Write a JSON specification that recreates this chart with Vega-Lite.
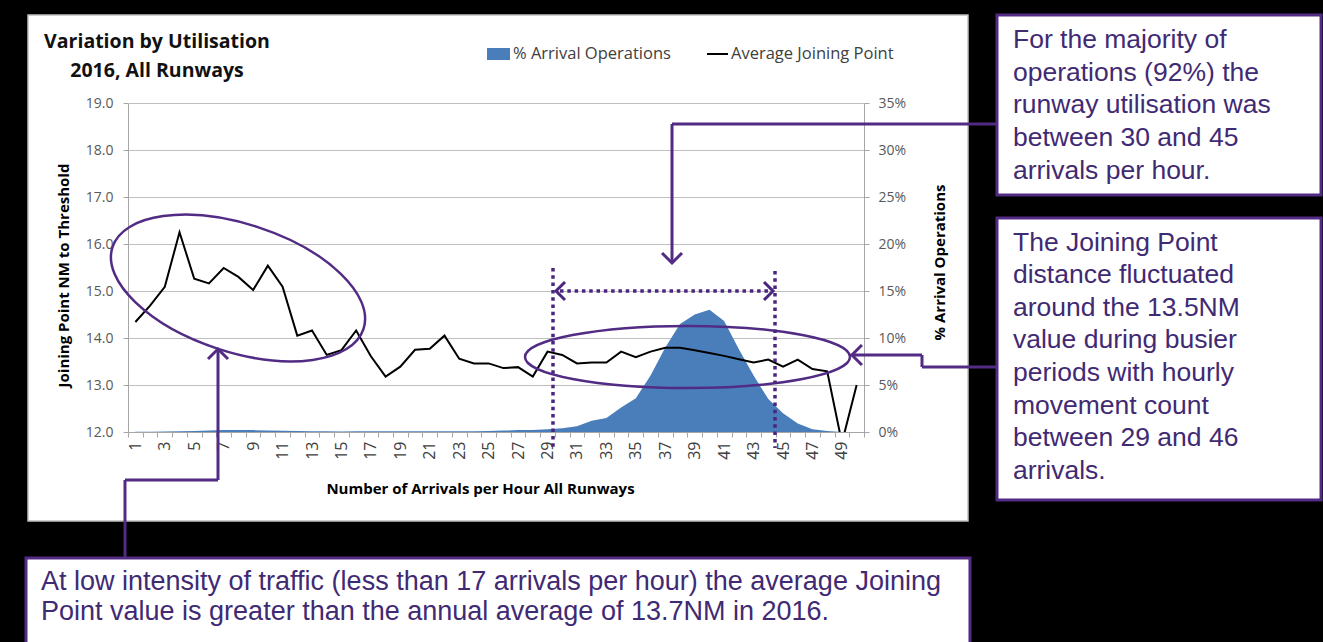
{
  "$schema": "https://vega.github.io/schema/vega-lite/v6.json",
  "width": 736,
  "height": 329,
  "autosize": {"type": "none"},
  "padding": {"left": 128, "top": 103, "right": 459, "bottom": 210},
  "background": "white",
  "config": {"view": {"stroke": null}, "font": "Open Sans"},
  "data": {"values": [
    {"n": 1, "jp": 14.34, "pct": 0.0002},
    {"n": 2, "jp": 14.69, "pct": 0.0003},
    {"n": 3, "jp": 15.09, "pct": 0.0005},
    {"n": 4, "jp": 16.25, "pct": 0.0007},
    {"n": 5, "jp": 15.26, "pct": 0.001},
    {"n": 6, "jp": 15.16, "pct": 0.0015},
    {"n": 7, "jp": 15.49, "pct": 0.002},
    {"n": 8, "jp": 15.30, "pct": 0.0022},
    {"n": 9, "jp": 15.02, "pct": 0.002},
    {"n": 10, "jp": 15.54, "pct": 0.0015},
    {"n": 11, "jp": 15.09, "pct": 0.0012},
    {"n": 12, "jp": 14.05, "pct": 0.001},
    {"n": 13, "jp": 14.16, "pct": 0.0008},
    {"n": 14, "jp": 13.64, "pct": 0.0007},
    {"n": 15, "jp": 13.74, "pct": 0.0006},
    {"n": 16, "jp": 14.16, "pct": 0.0007},
    {"n": 17, "jp": 13.61, "pct": 0.0008},
    {"n": 18, "jp": 13.18, "pct": 0.0008},
    {"n": 19, "jp": 13.39, "pct": 0.0007},
    {"n": 20, "jp": 13.75, "pct": 0.0008},
    {"n": 21, "jp": 13.77, "pct": 0.0009},
    {"n": 22, "jp": 14.05, "pct": 0.0008},
    {"n": 23, "jp": 13.56, "pct": 0.0007},
    {"n": 24, "jp": 13.46, "pct": 0.0008},
    {"n": 25, "jp": 13.46, "pct": 0.001},
    {"n": 26, "jp": 13.36, "pct": 0.0015},
    {"n": 27, "jp": 13.38, "pct": 0.002},
    {"n": 28, "jp": 13.18, "pct": 0.0022},
    {"n": 29, "jp": 13.71, "pct": 0.003},
    {"n": 30, "jp": 13.64, "pct": 0.004},
    {"n": 31, "jp": 13.46, "pct": 0.006},
    {"n": 32, "jp": 13.48, "pct": 0.012},
    {"n": 33, "jp": 13.48, "pct": 0.015},
    {"n": 34, "jp": 13.71, "pct": 0.026},
    {"n": 35, "jp": 13.59, "pct": 0.036},
    {"n": 36, "jp": 13.71, "pct": 0.06},
    {"n": 37, "jp": 13.79, "pct": 0.09},
    {"n": 38, "jp": 13.79, "pct": 0.115},
    {"n": 39, "jp": 13.74, "pct": 0.125},
    {"n": 40, "jp": 13.68, "pct": 0.13},
    {"n": 41, "jp": 13.62, "pct": 0.118},
    {"n": 42, "jp": 13.55, "pct": 0.088},
    {"n": 43, "jp": 13.48, "pct": 0.06},
    {"n": 44, "jp": 13.54, "pct": 0.035},
    {"n": 45, "jp": 13.39, "pct": 0.02},
    {"n": 46, "jp": 13.54, "pct": 0.009},
    {"n": 47, "jp": 13.34, "pct": 0.003},
    {"n": 48, "jp": 13.29, "pct": 0.001},
    {"n": 49, "jp": 11.77, "pct": 0.0},
    {"n": 50, "jp": 13.0, "pct": 0.0}
  ]},
  "resolve": {"scale": {"y": "independent"}, "axis": {"x": "independent", "y": "independent"}},
  "layer": [
    {
      "mark": {"type": "area", "color": "#4a7ebb", "opacity": 1},
      "encoding": {
        "x": {"field": "n", "type": "quantitative",
          "scale": {"domain": [0.5, 50.5], "nice": false, "zero": false},
          "axis": {
            "values": [0.5,1,1.5,2,2.5,3,3.5,4,4.5,5,5.5,6,6.5,7,7.5,8,8.5,9,9.5,10,10.5,11,11.5,12,12.5,13,13.5,14,14.5,15,15.5,16,16.5,17,17.5,18,18.5,19,19.5,20,20.5,21,21.5,22,22.5,23,23.5,24,24.5,25,25.5,26,26.5,27,27.5,28,28.5,29,29.5,30,30.5,31,31.5,32,32.5,33,33.5,34,34.5,35,35.5,36,36.5,37,37.5,38,38.5,39,39.5,40,40.5,41,41.5,42,42.5,43,43.5,44,44.5,45,45.5,46,46.5,47,47.5,48,48.5,49,49.5,50,50.5],
            "labelExpr": "datum.value % 2 === 1 ? '' + datum.value : ''",
            "tickOpacity": {"condition": {"test": "datum.value % 1 === 0", "value": 0}, "value": 1},
            "labelAngle": -90, "labelOverlap": false, "labelFlush": false, "labelBound": false,
            "grid": false, "tickSize": 5, "tickColor": "#a6a6a6", "domainColor": "#a6a6a6",
            "labelFontSize": 16, "labelColor": "#404040", "labelPadding": 4,
            "title": "Number of Arrivals per Hour All Runways", "titleFontSize": 15, "titleFontWeight": "bold",
            "titleColor": "#000000", "titlePadding": 22, "titleX": 352
          }},
        "y": {"field": "pct", "type": "quantitative",
          "scale": {"domain": [0, 0.35], "nice": false, "zero": true},
          "axis": {
            "orient": "right", "values": [0, 0.05, 0.1, 0.15, 0.2, 0.25, 0.3, 0.35], "format": ".0%",
            "grid": false, "tickSize": 5, "tickColor": "#a6a6a6", "domainColor": "#a6a6a6",
            "labelFontSize": 14, "labelColor": "#595959", "labelPadding": 9,
            "title": "% Arrival Operations", "titleFontSize": 15, "titleFontWeight": "bold", "titleColor": "#000000",
            "titleAngle": 270, "titleBaseline": "top", "titlePadding": 27, "titleY": 159
          }}
      }
    },
    {
      "resolve": {"axis": {"x": "independent", "y": "independent"}},
      "layer": [
        {
          "mark": {"type": "line", "color": "black", "strokeWidth": 2, "clip": true},
          "encoding": {
            "x": {"field": "n", "type": "quantitative", "axis": null, "scale": {"domain": [0.5, 50.5], "nice": false, "zero": false}},
            "y": {"field": "jp", "type": "quantitative",
              "scale": {"domain": [12, 19], "nice": false, "zero": false},
              "axis": {
                "values": [12, 13, 14, 15, 16, 17, 18, 19], "format": ".1f",
                "grid": true, "gridColor": "#bfbfbf", "gridWidth": 1,
                "tickSize": 5, "tickColor": "#a6a6a6", "domainColor": "#a6a6a6",
                "labelFontSize": 14, "labelColor": "#595959", "labelPadding": 10,
                "title": "Joining Point NM to Threshold", "titleFontSize": 15, "titleFontWeight": "bold",
                "titleColor": "#000000", "titlePadding": 14, "titleY": 172
              }}
          }
        },
        {
          "data": {"values": [{}]},
          "resolve": {"axis": {"x": "independent", "y": "independent"}},
          "layer": [
            {"mark": {"type": "rect", "fill": "black"}, "encoding": {"x": {"datum": -9, "axis": null}, "x2": {"datum": 82}, "y": {"datum": 21.4, "axis": null}, "y2": {"datum": 20.872}}},
            {"mark": {"type": "rect", "fill": "black"}, "encoding": {"x": {"datum": -9, "axis": null}, "x2": {"datum": -6.293}, "y": {"datum": 21.4, "axis": null}, "y2": {"datum": 7.2}}},
            {"mark": {"type": "rect", "fill": "black"}, "encoding": {"x": {"datum": 57.565, "axis": null}, "x2": {"datum": 82}, "y": {"datum": 21.4, "axis": null}, "y2": {"datum": 7.2}}},
            {"mark": {"type": "rect", "fill": "black"}, "encoding": {"x": {"datum": -9, "axis": null}, "x2": {"datum": 82}, "y": {"datum": 10.106, "axis": null}, "y2": {"datum": 7.2}}},
            {"mark": {"type": "rect", "fillOpacity": 0, "stroke": "#bfbfbf", "strokeWidth": 1.5}, "encoding": {"x": {"datum": -6.293, "axis": null}, "x2": {"datum": 57.565}, "y": {"datum": 20.872, "axis": null}, "y2": {"datum": 10.106}}},

            {"mark": {"type": "text", "text": "Variation by Utilisation", "fontSize": 19.5, "fontWeight": "bold", "align": "center", "baseline": "middle", "fill": "#111111"}, "encoding": {"x": {"datum": 2.47, "axis": null}, "y": {"datum": 20.298, "axis": null}}},
            {"mark": {"type": "text", "text": "2016, All Runways", "fontSize": 19.5, "fontWeight": "bold", "align": "center", "baseline": "middle", "fill": "#111111"}, "encoding": {"x": {"datum": 2.47, "axis": null}, "y": {"datum": 19.681, "axis": null}}},

            {"mark": {"type": "rect", "fill": "#4a7ebb"}, "encoding": {"x": {"datum": 24.889, "axis": null}, "x2": {"datum": 26.451}, "y": {"datum": 20.17, "axis": null}, "y2": {"datum": 19.915}}},
            {"mark": {"type": "text", "text": "% Arrival Operations", "fontSize": 16.5, "align": "left", "baseline": "middle", "fill": "#404040"}, "encoding": {"x": {"datum": 26.655, "axis": null}, "y": {"datum": 20.043, "axis": null}}},
            {"mark": {"type": "rule", "stroke": "black", "strokeWidth": 2}, "encoding": {"x": {"datum": 39.834, "axis": null}, "x2": {"datum": 41.261}, "y": {"datum": 20.043, "axis": null}}},
            {"mark": {"type": "text", "text": "Average Joining Point", "fontSize": 16.5, "align": "left", "baseline": "middle", "fill": "#404040"}, "encoding": {"x": {"datum": 41.465, "axis": null}, "y": {"datum": 20.043, "axis": null}}},

            {"mark": {"type": "point", "shape": "M-1,0A1,0.485,0,1,0,1,0A1,0.485,0,1,0,-1,0Z", "size": 69696, "angle": 18, "filled": false, "stroke": "#512b84", "strokeWidth": 2.5, "opacity": 1}, "encoding": {"x": {"datum": 7.973, "axis": null}, "y": {"datum": 15.064, "axis": null}}},
            {"mark": {"type": "point", "shape": "M-1,0A1,0.191,0,1,0,1,0A1,0.191,0,1,0,-1,0Z", "size": 105625, "angle": 0, "filled": false, "stroke": "#512b84", "strokeWidth": 2.5, "opacity": 1}, "encoding": {"x": {"datum": 38.51, "axis": null}, "y": {"datum": 13.596, "axis": null}}},

            {"mark": {"type": "rule", "stroke": "#4b2580", "strokeWidth": 3.5, "strokeDash": [3.5, 3.8]}, "encoding": {"x": {"datum": 29.372, "axis": null}, "y": {"datum": 15.489, "axis": null}, "y2": {"datum": 11.66}}},
            {"mark": {"type": "rule", "stroke": "#4b2580", "strokeWidth": 3.5, "strokeDash": [3.5, 3.8]}, "encoding": {"x": {"datum": 44.454, "axis": null}, "y": {"datum": 15.426, "axis": null}, "y2": {"datum": 11.66}}},
            {"mark": {"type": "rule", "stroke": "#4b2580", "strokeWidth": 3.5, "strokeDash": [3.5, 3.8]}, "encoding": {"x": {"datum": 29.85, "axis": null}, "x2": {"datum": 44.11}, "y": {"datum": 15.0, "axis": null}}},
            {"mark": {"type": "point", "shape": "M-1,1L0,0L1,1", "size": 324, "angle": 270, "filled": false, "stroke": "#4b2580", "strokeWidth": 3, "opacity": 1}, "encoding": {"x": {"datum": 29.576, "axis": null}, "y": {"datum": 15.0, "axis": null}}},
            {"mark": {"type": "point", "shape": "M-1,1L0,0L1,1", "size": 324, "angle": 90, "filled": false, "stroke": "#4b2580", "strokeWidth": 3, "opacity": 1}, "encoding": {"x": {"datum": 44.318, "axis": null}, "y": {"datum": 15.0, "axis": null}}},

            {"mark": {"type": "rule", "stroke": "#512b84", "strokeWidth": 3}, "encoding": {"x": {"datum": 37.457, "axis": null}, "x2": {"datum": 59.535}, "y": {"datum": 18.553, "axis": null}}},
            {"mark": {"type": "rule", "stroke": "#512b84", "strokeWidth": 3}, "encoding": {"x": {"datum": 37.457, "axis": null}, "y": {"datum": 18.553, "axis": null}, "y2": {"datum": 15.64}}},
            {"mark": {"type": "point", "shape": "M-1,1L0,0L1,1", "size": 400, "angle": 180, "filled": false, "stroke": "#512b84", "strokeWidth": 3, "opacity": 1}, "encoding": {"x": {"datum": 37.457, "axis": null}, "y": {"datum": 15.596, "axis": null}}},

            {"mark": {"type": "rule", "stroke": "#512b84", "strokeWidth": 3}, "encoding": {"x": {"datum": 54.44, "axis": null}, "x2": {"datum": 59.535}, "y": {"datum": 13.383, "axis": null}}},
            {"mark": {"type": "rule", "stroke": "#512b84", "strokeWidth": 3}, "encoding": {"x": {"datum": 54.44, "axis": null}, "y": {"datum": 13.383, "axis": null}, "y2": {"datum": 13.638}}},
            {"mark": {"type": "rule", "stroke": "#512b84", "strokeWidth": 3}, "encoding": {"x": {"datum": 49.75, "axis": null}, "x2": {"datum": 54.44}, "y": {"datum": 13.638, "axis": null}}},
            {"mark": {"type": "point", "shape": "M-1,1L0,0L1,1", "size": 400, "angle": 270, "filled": false, "stroke": "#512b84", "strokeWidth": 3, "opacity": 1}, "encoding": {"x": {"datum": 49.68, "axis": null}, "y": {"datum": 13.638, "axis": null}}},

            {"mark": {"type": "rule", "stroke": "#512b84", "strokeWidth": 3}, "encoding": {"x": {"datum": 0.296, "axis": null}, "y": {"datum": 9.319, "axis": null}, "y2": {"datum": 10.979}}},
            {"mark": {"type": "rule", "stroke": "#512b84", "strokeWidth": 3}, "encoding": {"x": {"datum": 0.296, "axis": null}, "x2": {"datum": 6.614}, "y": {"datum": 10.979, "axis": null}}},
            {"mark": {"type": "rule", "stroke": "#512b84", "strokeWidth": 3}, "encoding": {"x": {"datum": 6.614, "axis": null}, "y": {"datum": 10.979, "axis": null}, "y2": {"datum": 13.745}}},
            {"mark": {"type": "point", "shape": "M-1,1L0,0L1,1", "size": 400, "angle": 0, "filled": false, "stroke": "#512b84", "strokeWidth": 3, "opacity": 1}, "encoding": {"x": {"datum": 6.614, "axis": null}, "y": {"datum": 13.766, "axis": null}}},

            {"mark": {"type": "rect", "fill": "white", "stroke": "#512b84", "strokeWidth": 3}, "encoding": {"x": {"datum": 59.535, "axis": null}, "x2": {"datum": 81.548}, "y": {"datum": 20.872, "axis": null}, "y2": {"datum": 17.043}}},
            {"mark": {"type": "rect", "fill": "white", "stroke": "#512b84", "strokeWidth": 3}, "encoding": {"x": {"datum": 59.535, "axis": null}, "x2": {"datum": 81.548}, "y": {"datum": 16.553, "axis": null}, "y2": {"datum": 10.553}}},
            {"mark": {"type": "rect", "fill": "white", "stroke": "#512b84", "strokeWidth": 3}, "encoding": {"x": {"datum": -6.429, "axis": null}, "x2": {"datum": 57.70}, "y": {"datum": 9.319, "axis": null}, "y2": {"datum": 7.149}}},

            {"mark": {"type": "text", "text": ["For the majority of", "operations (92%) the", "runway utilisation was", "between 30 and 45", "arrivals per hour."], "font": "Liberation Sans", "fontSize": 26.5, "lineHeight": 32.6, "align": "left", "baseline": "line-top", "fill": "#3f2a73"}, "encoding": {"x": {"datum": 60.62, "axis": null}, "y": {"datum": 20.677, "axis": null}}},
            {"mark": {"type": "text", "text": ["The Joining Point", "distance fluctuated", "around the 13.5NM", "value during busier", "periods with hourly", "movement count", "between 29 and 46", "arrivals."], "font": "Liberation Sans", "fontSize": 26.5, "lineHeight": 32.6, "align": "left", "baseline": "line-top", "fill": "#3f2a73"}, "encoding": {"x": {"datum": 60.62, "axis": null}, "y": {"datum": 16.369, "axis": null}}},
            {"mark": {"type": "text", "text": ["At low intensity of traffic (less than 17 arrivals per hour) the average Joining", "Point value is greater than the annual average of 13.7NM in 2016."], "font": "Liberation Sans", "fontSize": 27, "lineHeight": 29.5, "align": "left", "baseline": "line-top", "fill": "#3f2a73"}, "encoding": {"x": {"datum": -5.41, "axis": null}, "y": {"datum": 9.122, "axis": null}}}
          ]
        }
      ]
    }
  ]
}
